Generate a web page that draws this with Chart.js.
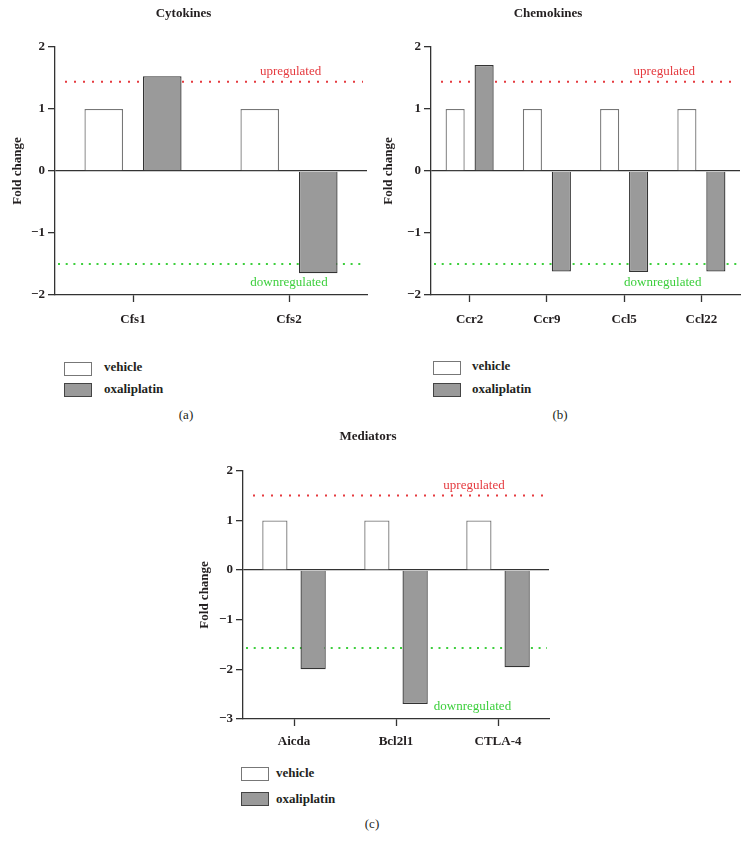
<!DOCTYPE html>
<html>
<head>
<meta charset="utf-8">
<script src="https://cdn.jsdelivr.net/npm/chart.js@4.4.1/dist/chart.umd.min.js"></script>
<style>
  html, body { margin: 0; padding: 0; background: #fff; }
  body { width: 749px; height: 851px; position: relative; overflow: hidden; font-family: "Liberation Serif", "DejaVu Serif", serif; color: #231f20; }
  canvas { position: absolute; }
  .lg-box { position: absolute; width: 26px; height: 12px; box-sizing: content-box; }
  .lg-veh { background: #fff; border: 1.3px solid #777; }
  .lg-oxa { background: #9a9a9a; border: 1.3px solid #444; }
  .lg-txt { position: absolute; font-weight: bold; font-size: 13px; line-height: 16px; white-space: nowrap; }
  .panel-tag { position: absolute; font-size: 13px; line-height: 16px; transform: translateX(-50%); }
</style>
</head>
<body>
<canvas id="chartA" width="372" height="330" style="left:0px;top:0px;"></canvas>
<canvas id="chartB" width="392" height="330" style="left:356px;top:0px;"></canvas>
<canvas id="chartC" width="372" height="331" style="left:187px;top:423px;"></canvas>

<div class="lg-box lg-veh" style="left:64px;top:362px;"></div>
<div class="lg-txt" style="left:104px;top:359px;">vehicle</div>
<div class="lg-box lg-oxa" style="left:64px;top:383px;"></div>
<div class="lg-txt" style="left:104px;top:381px;">oxaliplatin</div>
<div class="panel-tag" style="left:186px;top:407px;">(a)</div>

<div class="lg-box lg-veh" style="left:433px;top:361px;"></div>
<div class="lg-txt" style="left:472px;top:358px;">vehicle</div>
<div class="lg-box lg-oxa" style="left:433px;top:383px;"></div>
<div class="lg-txt" style="left:472px;top:381px;">oxaliplatin</div>
<div class="panel-tag" style="left:560px;top:407px;">(b)</div>

<div class="lg-box lg-veh" style="left:241px;top:767px;"></div>
<div class="lg-txt" style="left:276px;top:765px;">vehicle</div>
<div class="lg-box lg-oxa" style="left:241px;top:792px;"></div>
<div class="lg-txt" style="left:276px;top:791px;">oxaliplatin</div>
<div class="panel-tag" style="left:372px;top:816px;">(c)</div>

<script>
// ---------- data ----------
const cytokineLabels = ['Cfs1', 'Cfs2'];
const cytokineVehicle = [1, 1];
const cytokineOxaliplatin = [1.53, -1.65];
const cytokineThresholds = [1.44, -1.5];
const cytokineRange = [-2, 2];

const chemokineLabels = ['Ccr2', 'Ccr9', 'Ccl5', 'Ccl22'];
const chemokineVehicle = [1, 1, 1, 1];
const chemokineOxaliplatin = [1.71, -1.62, -1.63, -1.62];
const chemokineThresholds = [1.44, -1.5];
const chemokineRange = [-2, 2];

const mediatorLabels = ['Aicda', 'Bcl2l1', 'CTLA-4'];
const mediatorVehicle = [1, 1, 1];
const mediatorOxaliplatin = [-2.0, -2.7, -1.96];
const mediatorThresholds = [1.5, -1.57];
const mediatorRange = [-3, 2];

const seriesNames = ['vehicle', 'oxaliplatin'];
const thresholdNames = ['upregulated', 'downregulated'];

// ---------- styling ----------
const SERIF = '"Liberation Serif", "DejaVu Serif", serif';
const INK = '#231f20';
const AXIS = '#333333';
const RED = '#e53a3f';
const GREEN = '#3ccf3c';

const thresholdPlugin = {
  id: 'thresholds',
  beforeDatasetsDraw(chart, args, opts) {
    const {ctx, chartArea, scales: {y}} = chart;
    const vals = opts.values;
    const w = chartArea.right - chartArea.left;
    ctx.save();
    ctx.lineWidth = 2;
    ctx.lineCap = 'butt';
    // upregulated
    const yUp = y.getPixelForValue(vals[0]);
    ctx.strokeStyle = RED;
    ctx.setLineDash([2, 7]);
    ctx.beginPath();
    ctx.moveTo(chartArea.left + 10, yUp);
    ctx.lineTo(chartArea.right - 4, yUp);
    ctx.stroke();
    // downregulated
    const yDown = y.getPixelForValue(vals[1]);
    ctx.strokeStyle = GREEN;
    ctx.setLineDash([2, 5.7]);
    ctx.beginPath();
    ctx.moveTo(chartArea.left + 3, yDown);
    ctx.lineTo(chartArea.right - 2, yDown);
    ctx.stroke();
    ctx.setLineDash([]);
    ctx.font = '13px ' + SERIF;
    ctx.textAlign = 'center';
    ctx.textBaseline = 'middle';
    ctx.fillStyle = RED;
    ctx.fillText(thresholdNames[0], chartArea.left + 0.755 * w, yUp - 10);
    ctx.fillStyle = GREEN;
    ctx.fillText(thresholdNames[1], chartArea.left + 0.75 * w, chartArea.bottom - 12);
    ctx.restore();
  }
};

function fmt(v) { return v < 0 ? '\u2212' + Math.abs(v) : String(v); }

function makeChart(id, cfg) {
  const el = document.getElementById(id);
  return new Chart(el, {
    type: 'bar',
    data: {
      labels: cfg.labels,
      datasets: [
        { label: seriesNames[0], data: cfg.vehicle, backgroundColor: '#ffffff', borderColor: '#777777',
          borderWidth: 1.3, borderSkipped: 'start', categoryPercentage: 0.75, barPercentage: 0.66 },
        { label: seriesNames[1], data: cfg.oxa, backgroundColor: '#9a9a9a', borderColor: '#333333',
          borderWidth: 1.3, borderSkipped: 'start', categoryPercentage: 0.75, barPercentage: 0.66 }
      ]
    },
    options: {
      responsive: false,
      animation: false,
      devicePixelRatio: 1,
      layout: { padding: { left: 0, right: cfg.padRight, top: 0, bottom: 5 } },
      plugins: {
        legend: { display: false },
        tooltip: { enabled: false },
        title: {
          display: true, text: cfg.title, color: INK,
          font: { family: SERIF, size: 13, weight: 'bold' },
          padding: { top: 6, bottom: cfg.titleGap }
        },
        thresholds: { values: cfg.thresholds }
      },
      scales: {
        x: {
          afterFit(scale) { scale.height = 30; },
          border: { display: true, color: AXIS, width: 1.3 },
          grid: { display: true, drawOnChartArea: false, offset: false, tickLength: 7, tickColor: AXIS, tickWidth: 1.3 },
          ticks: { color: INK, font: { family: SERIF, size: 13, weight: 'bold' }, padding: cfg.xPad, maxRotation: 0 }
        },
        y: {
          min: cfg.range[0], max: cfg.range[1],
          afterFit(scale) { scale.width = cfg.yWidth; },
          border: { display: true, color: AXIS, width: 1.3 },
          grid: {
            drawOnChartArea: true, tickLength: 7, tickColor: AXIS, tickWidth: 1.3,
            color: (ctx) => (ctx.tick && ctx.tick.value === 0 ? AXIS : 'rgba(0,0,0,0)'),
            lineWidth: 1.3
          },
          ticks: { stepSize: 1, color: INK, font: { family: SERIF, size: 13, weight: 'bold' }, padding: 3, callback: fmt },
          title: {
            display: true, text: 'Fold change', color: INK,
            font: { family: SERIF, size: 13, weight: 'bold' },
            padding: { top: cfg.yTitlePad, bottom: 0 }
          }
        }
      }
    },
    plugins: [thresholdPlugin]
  });
}

makeChart('chartA', {
  labels: cytokineLabels, vehicle: cytokineVehicle, oxa: cytokineOxaliplatin,
  thresholds: cytokineThresholds, range: cytokineRange, title: 'Cytokines',
  padRight: 5, yWidth: 55, yTitlePad: 10, titleGap: 25.4, xPad: 10
});
makeChart('chartB', {
  labels: chemokineLabels, vehicle: chemokineVehicle, oxa: chemokineOxaliplatin,
  thresholds: chemokineThresholds, range: chemokineRange, title: 'Chemokines',
  padRight: 8, yWidth: 75, yTitlePad: 25, titleGap: 25.4, xPad: 10
});
makeChart('chartC', {
  labels: mediatorLabels, vehicle: mediatorVehicle, oxa: mediatorOxaliplatin,
  thresholds: mediatorThresholds, range: mediatorRange, title: 'Mediators',
  padRight: 10, yWidth: 56, yTitlePad: 10, titleGap: 26.2, xPad: 8
});
</script>
</body>
</html>
